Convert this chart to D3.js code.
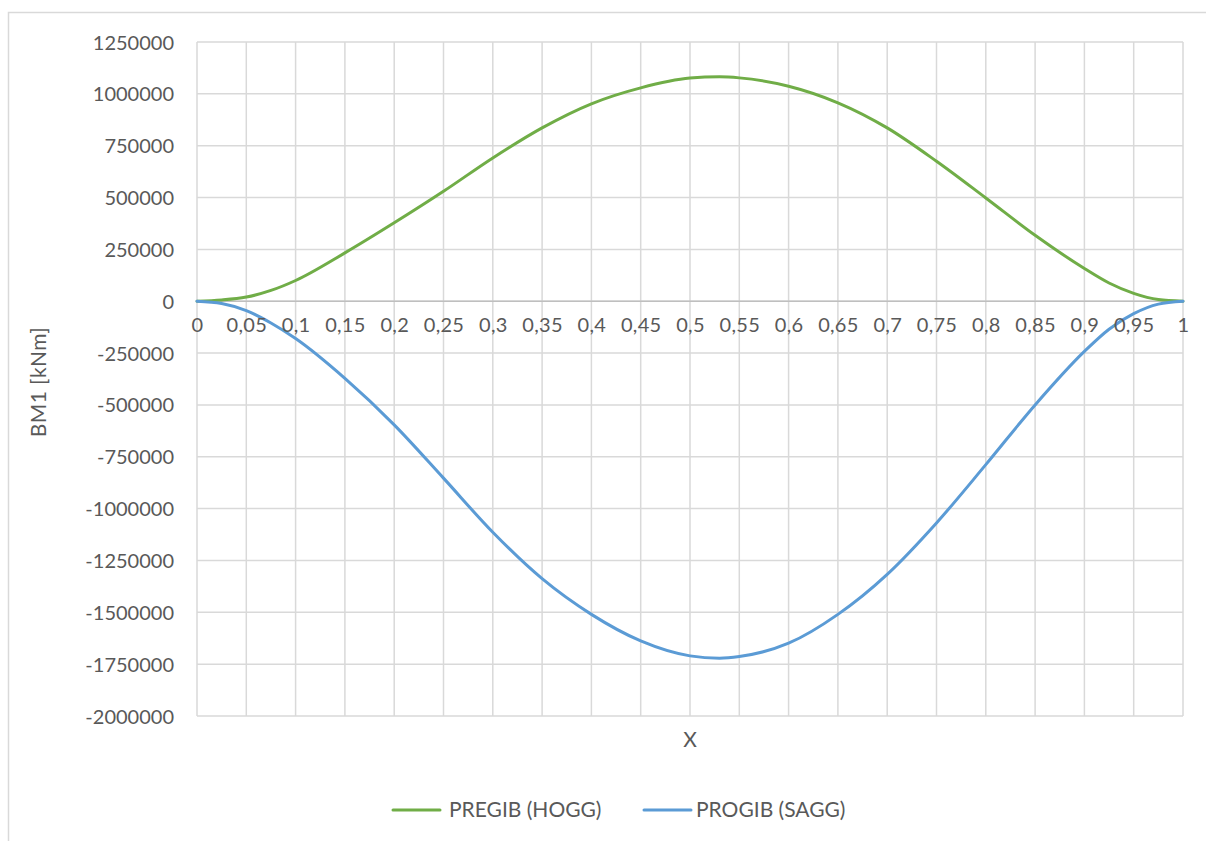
<!DOCTYPE html>
<html><head><meta charset="utf-8">
<script src="https://cdn.jsdelivr.net/npm/d3@7"></script>
<style>
html,body{margin:0;padding:0;background:#fff;}
svg{display:block;}
text{font-family:Lato,"Open Sans",sans-serif;fill:#595959;}
</style></head>
<body>
<svg id="chart" width="1206" height="841"></svg>
<script>
const xValues = [0,0.025,0.05,0.075,0.1,0.15,0.2,0.25,0.3,0.35,0.4,0.45,0.5,0.53,0.55,0.6,0.65,0.7,0.75,0.8,0.85,0.9,0.925,0.95,0.975,1];
const hoggValues = [0,6000,20000,52000,100000,233000,378000,530000,691000,836000,952000,1029000,1076000,1082000,1077000,1037000,957000,836000,675000,498000,318000,158000,88000,38000,8000,0];
const saggValues = [0,-11000,-45000,-105000,-180000,-372000,-596000,-853000,-1114000,-1338000,-1510000,-1638000,-1710000,-1721000,-1713000,-1649000,-1510000,-1317000,-1069000,-788000,-500000,-242000,-135000,-60000,-14000,0];
const xTicks = [0,0.05,0.1,0.15,0.2,0.25,0.3,0.35,0.4,0.45,0.5,0.55,0.6,0.65,0.7,0.75,0.8,0.85,0.9,0.95,1];
const xTickLabels = ["0","0,05","0,1","0,15","0,2","0,25","0,3","0,35","0,4","0,45","0,5","0,55","0,6","0,65","0,7","0,75","0,8","0,85","0,9","0,95","1"];
const yTicks = [1250000,1000000,750000,500000,250000,0,-250000,-500000,-750000,-1000000,-1250000,-1500000,-1750000,-2000000];
const seriesNames = ["PREGIB (HOGG)","PROGIB (SAGG)"];
const seriesColors = ["#70AD47","#5B9BD5"];

const svg = d3.select("#chart");
const fs = 20;
const fsT = 21;

// chart frame
svg.append("rect").attr("x",8.5).attr("y",12.5).attr("width",1210).attr("height",840)
  .attr("fill","#fff").attr("stroke","#D9D9D9").attr("stroke-width",1.5);

const x = d3.scaleLinear().domain([0,1]).range([197,1183]);
const y = d3.scaleLinear().domain([-2000000,1250000]).range([716,42]);

// gridlines
const grid = svg.append("g");
grid.selectAll("line.h").data(yTicks).join("line")
  .attr("x1",x(0)).attr("x2",x(1))
  .attr("y1",d=>y(d)).attr("y2",d=>y(d))
  .attr("stroke","#D9D9D9").attr("stroke-width",1.5);
grid.selectAll("line.v").data(xTicks).join("line")
  .attr("x1",d=>x(d)).attr("x2",d=>x(d))
  .attr("y1",y(1250000)).attr("y2",y(-2000000))
  .attr("stroke","#D9D9D9").attr("stroke-width",1.5);
// zero axis line
svg.append("line").attr("x1",x(0)).attr("x2",x(1)).attr("y1",y(0)).attr("y2",y(0))
  .attr("stroke","#BFBFBF").attr("stroke-width",1.5);

// y axis labels via d3 axis
const yAxis = d3.axisLeft(y).tickValues(yTicks).tickFormat(d=>String(d)).tickSize(0).tickPadding(0);
const gy = svg.append("g").attr("transform","translate(174,0)").call(yAxis);
gy.select(".domain").remove();
gy.selectAll("text").attr("font-size",fs).attr("font-family","Lato").attr("fill","#595959").attr("dy","0.35em");

// lines
const line = d3.line().x(d=>x(d[0])).y(d=>y(d[1])).curve(d3.curveMonotoneX);
const series = [hoggValues, saggValues];
series.forEach((vals,i)=>{
  svg.append("path").datum(xValues.map((xv,j)=>[xv,vals[j]]))
    .attr("d",line).attr("fill","none").attr("stroke",seriesColors[i])
    .attr("stroke-width",3).attr("stroke-linecap","round").attr("stroke-linejoin","round");
});

// x axis labels
const xAxis = d3.axisBottom(x).tickValues(xTicks).tickFormat((d,i)=>xTickLabels[i]).tickSize(0).tickPadding(0);
const gx = svg.append("g").attr("transform",`translate(0,${y(0)+24})`).call(xAxis);
gx.select(".domain").remove();
gx.selectAll("text").attr("font-size",fs).attr("font-family","Lato").attr("fill","#595959").attr("dy","0.35em")
  .attr("letter-spacing","0.3px");

// axis titles
svg.append("text").attr("x",690).attr("y",740).attr("text-anchor","middle").attr("dy","0.35em")
  .attr("font-size",fsT).text("X");
svg.append("text").attr("transform","translate(39,382) rotate(-90)").attr("text-anchor","middle").attr("dy","0.35em")
  .attr("font-size",fsT).attr("letter-spacing","0.4px").text("BM1 [kNm]");

// legend
const legendItems = [{x:393, tx:449},{x:644, tx:696}];
seriesNames.forEach((name,i)=>{
  const it = legendItems[i];
  svg.append("line").attr("x1",it.x).attr("x2",it.x+47).attr("y1",810).attr("y2",810)
    .attr("stroke",seriesColors[i]).attr("stroke-width",3).attr("stroke-linecap","round");
  svg.append("text").attr("x",it.tx).attr("y",810).attr("dy","0.35em").attr("font-size",fsT).text(name);
});
</script>
</body></html>
